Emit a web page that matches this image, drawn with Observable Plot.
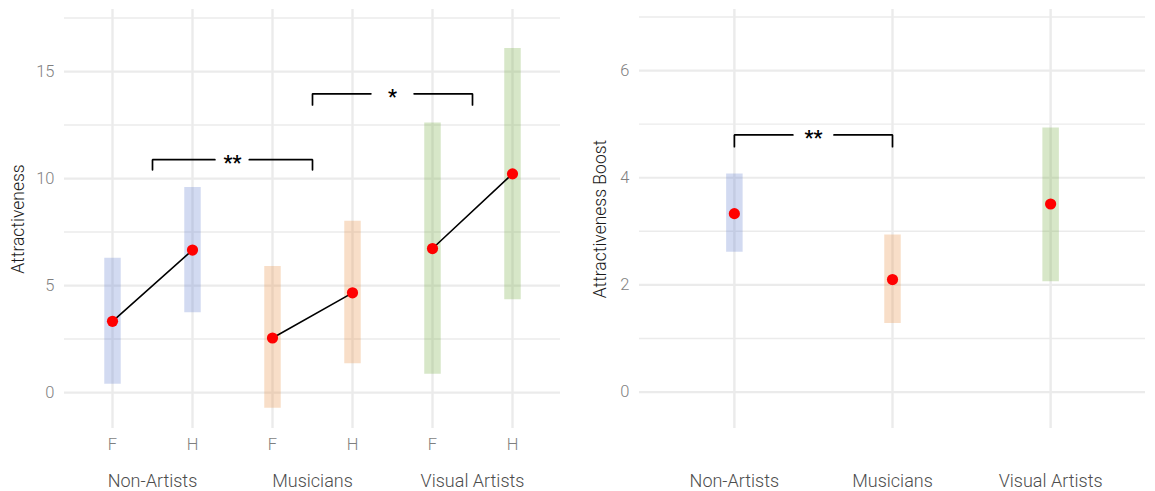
<!DOCTYPE html>
<html><head><meta charset="utf-8">
<script src="https://cdn.jsdelivr.net/npm/d3@7"></script>
<script src="https://cdn.jsdelivr.net/npm/@observablehq/plot@0.6"></script>
<style>
body{margin:0;background:#fff}
#wrap{display:flex;width:1155px;height:491px}
#wrap svg{display:block}
</style>
</head><body><div id="wrap"></div>
<script>
// ---- data ----
const groups = ["Non-Artists", "Musicians", "Visual Artists"];
const conditions = ["F", "H"];
const attrMean = [3.33, 6.66, 2.55, 4.66, 6.73, 10.22];
const attrLow  = [0.39, 3.73, -0.73, 1.34, 0.86, 4.34];
const attrHigh = [6.27, 9.58, 5.89, 8.00, 12.60, 16.08];
const boostMean = [3.33, 2.10, 3.51];
const boostLow  = [2.61, 1.28, 2.06];
const boostHigh = [4.07, 2.93, 4.93];
const attrTicks = [0, 5, 10, 15];
const attrMinor = [2.5, 7.5, 12.5, 17.5];
const boostTicks = [0, 2, 4, 6];
const boostMinor = [1, 3, 5, 7];
// significance brackets (group positions, bracket height, tip height, label)
const attrBrackets = [
  {from: 1.5, to: 3.5, y: 10.88, tip: 10.41, label: "**", gapL: 2.28, gapR: 2.71},
  {from: 3.5, to: 5.5, y: 13.96, tip: 13.44, label: "*", gapL: 4.23, gapR: 4.77}
];
const boostBrackets = [
  {from: 1, to: 2, y: 4.80, tip: 4.58, label: "**", gapL: 1.37, gapR: 1.63}
];
const groupColors = ["#6a86d0", "#e8924a", "#79b04a"];

// ---- derived tables ----
const attrData = attrMean.map((m, i) => ({
  pos: i + 1, group: groups[Math.floor(i / 2)], cond: conditions[i % 2],
  mean: m, low: attrLow[i], high: attrHigh[i]
}));
const boostData = boostMean.map((m, i) => ({
  pos: i + 1, group: groups[i], mean: m, low: boostLow[i], high: boostHigh[i]
}));
function bracketPaths(br) {
  const out = [];
  br.forEach((b, i) => {
    out.push({x: b.from, y: b.tip, k: i + "a"}, {x: b.from, y: b.y, k: i + "a"}, {x: b.gapL, y: b.y, k: i + "a"});
    out.push({x: b.gapR, y: b.y, k: i + "b"}, {x: b.to, y: b.y, k: i + "b"}, {x: b.to, y: b.tip, k: i + "b"});
  });
  return out;
}
const FONT = "Roboto, 'Noto Sans', sans-serif";
const GRID = "#ebebeb";
const TICKC = "#7f7f7f";
const LABC = "#4d4d4d";
const fmt = d => String(d);

function common(w, ml, mr) {
  return {
    width: w, height: 491,
    marginTop: 9, marginBottom: 63, marginLeft: ml, marginRight: mr,
    style: {fontFamily: FONT, fontWeight: 300, background: "#fff", overflow: "visible"},
    color: {domain: groups, range: groupColors}
  };
}

// ---- left chart ----
const left = Plot.plot({
  ...common(580, 64, 20),
  x: {type: "linear", domain: [0.4, 6.6], axis: null},
  y: {domain: [-1.68, 17.9], axis: null},
  marks: [
    Plot.gridY(attrMinor, {stroke: GRID, strokeOpacity: 1, strokeWidth: 1.4}),
    Plot.gridY(attrTicks, {stroke: GRID, strokeOpacity: 1, strokeWidth: 2.2}),
    Plot.gridX(attrData.map(d => d.pos), {stroke: GRID, strokeOpacity: 1, strokeWidth: 2.4}),
    Plot.axisY(attrTicks, {tickSize: 0, tickPadding: 10, fontSize: 16.5, fill: TICKC, label: null, tickFormat: fmt}),
    Plot.axisX(attrData.map(d => d.pos), {tickSize: 0, tickPadding: 10, fontSize: 16.5, fill: TICKC, label: null,
      tickFormat: p => conditions[(p - 1) % 2]}),
    Plot.axisX([1.5, 3.5, 5.5], {tickSize: 0, tickPadding: 46, fontSize: 18, fill: LABC, label: null,
      tickFormat: p => groups[Math.round((p - 1.5) / 2)]}),
    Plot.text(["Attractiveness"], {frameAnchor: "left", textAnchor: "middle", rotate: -90, dx: -46, fontSize: 17.5, fill: "#1a1a1a", text: d => d}),
    Plot.ruleX(attrData, {x: "pos", y1: "low", y2: "high", stroke: "group", strokeWidth: 16.5, strokeOpacity: 0.3}),
    Plot.line(attrData, {x: "pos", y: "mean", z: "group", stroke: "black", strokeWidth: 1.6}),
    Plot.dot(attrData, {x: "pos", y: "mean", r: 5.6, fill: "red", stroke: "none"}),
    Plot.line(bracketPaths(attrBrackets), {x: "x", y: "y", z: "k", stroke: "black", strokeWidth: 1.7, strokeLinejoin: "miter"}),
    Plot.text(attrBrackets, {x: d => (d.from + d.to) / 2, y: "y", text: "label", fontSize: 20, fontWeight: 600, fill: "black", dy: 4})
  ]
});

// ---- right chart ----
const right = Plot.plot({
  ...common(575, 59, 10),
  x: {type: "linear", domain: [0.4, 3.6], axis: null},
  y: {domain: [-0.68, 7.14], axis: null},
  marks: [
    Plot.gridY(boostMinor, {stroke: GRID, strokeOpacity: 1, strokeWidth: 1.4}),
    Plot.gridY(boostTicks, {stroke: GRID, strokeOpacity: 1, strokeWidth: 2.2}),
    Plot.gridX(boostData.map(d => d.pos), {stroke: GRID, strokeOpacity: 1, strokeWidth: 2.4}),
    Plot.axisY(boostTicks, {tickSize: 0, tickPadding: 10, fontSize: 16.5, fill: TICKC, label: null, tickFormat: fmt}),
    Plot.axisX(boostData.map(d => d.pos), {tickSize: 0, tickPadding: 46, fontSize: 18, fill: LABC, label: null,
      tickFormat: p => groups[p - 1]}),
    Plot.text(["Attractiveness Boost"], {frameAnchor: "left", textAnchor: "middle", rotate: -90, dx: -39, fontSize: 17.5, fill: "#1a1a1a", text: d => d}),
    Plot.ruleX(boostData, {x: "pos", y1: "low", y2: "high", stroke: "group", strokeWidth: 16.5, strokeOpacity: 0.3}),
    Plot.dot(boostData, {x: "pos", y: "mean", r: 5.6, fill: "red", stroke: "none"}),
    Plot.line(bracketPaths(boostBrackets), {x: "x", y: "y", z: "k", stroke: "black", strokeWidth: 1.7, strokeLinejoin: "miter"}),
    Plot.text(boostBrackets, {x: d => (d.from + d.to) / 2, y: "y", text: "label", fontSize: 20, fontWeight: 600, fill: "black", dy: 4})
  ]
});

const wrap = document.getElementById("wrap");
wrap.appendChild(left);
wrap.appendChild(right);
</script></body></html>
